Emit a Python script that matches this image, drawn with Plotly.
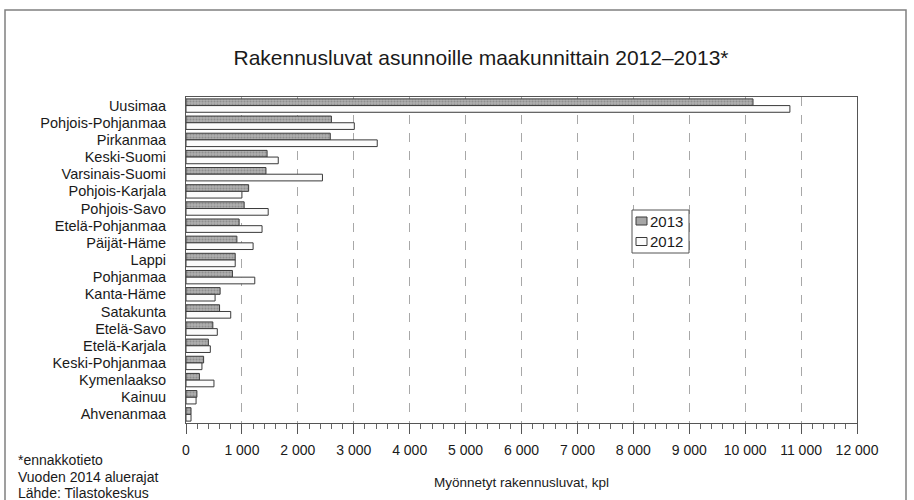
import plotly.graph_objects as go

regions = ["Uusimaa", "Pohjois-Pohjanmaa", "Pirkanmaa", "Keski-Suomi", "Varsinais-Suomi",
           "Pohjois-Karjala", "Pohjois-Savo", "Etelä-Pohjanmaa", "Päijät-Häme", "Lappi",
           "Pohjanmaa", "Kanta-Häme", "Satakunta", "Etelä-Savo", "Etelä-Karjala",
           "Keski-Pohjanmaa", "Kymenlaakso", "Kainuu", "Ahvenanmaa"]
values_2013 = [10140, 2600, 2580, 1450, 1430, 1120, 1040, 950, 910, 880,
               830, 610, 600, 480, 400, 315, 240, 195, 90]
values_2012 = [10800, 3010, 3420, 1650, 2440, 1000, 1470, 1360, 1200, 880,
               1230, 520, 800, 560, 435, 285, 500, 180, 90]
series_names = ["2013", "2012"]
tick_values = list(range(0, 12001, 1000))
tick_labels = ["0" if v == 0 else f"{v:,}".replace(",", " ") for v in tick_values]
footnotes = ["*ennakkotieto", "Vuoden 2014 aluerajat", "Lähde: Tilastokeskus"]

W, H = 914, 500
L, R, T, B = 186, 57, 97, 77
pw, ph = W - L - R, H - T - B


def px(x):
    return (x - L) / pw


def py(y):
    return (H - B - y) / ph


FONT = "Liberation Sans, Arial, sans-serif"
TXT = "#1a1a1a"
marker_2013 = dict(color="#a6a6a6", line=dict(color="#3a3a3a", width=1),
                   pattern=dict(shape=".", size=3, fgcolor="#6e6e6e", bgcolor="#b0b0b0", solidity=0.4))
marker_2012 = dict(color="#fbfbfb", line=dict(color="#3a3a3a", width=1))

fig = go.Figure()
fig.add_trace(go.Bar(name=series_names[0], y=regions, x=values_2013, orientation="h", marker=marker_2013))
fig.add_trace(go.Bar(name=series_names[1], y=regions, x=values_2012, orientation="h", marker=marker_2012))

fig.update_layout(
    width=W, height=H,
    margin=dict(l=L, r=R, t=T, b=B),
    paper_bgcolor="white", plot_bgcolor="white",
    barmode="group", bargap=0.22, bargroupgap=0,
    font=dict(family=FONT, color=TXT, size=14),
    title=dict(text="Rakennusluvat asunnoille maakunnittain 2012–2013*",
               x=481 / W, xanchor="center", xref="container",
               y=1 - 58 / H, yanchor="middle", yref="container",
               font=dict(size=21, color=TXT)),
    showlegend=False,
)

fig.update_xaxes(
    range=[0, 12000], tickvals=tick_values, ticktext=tick_labels,
    showgrid=True, gridcolor="#a8a8a8", griddash="dash", gridwidth=1,
    showline=True, linecolor="#555", linewidth=1, mirror=True,
    ticks="outside", ticklen=10, tickcolor="#555", ticklabelstandoff=4,
    minor=dict(dtick=200, ticks="outside", ticklen=5, tickcolor="#666", showgrid=False),
    tickfont=dict(size=14, color=TXT),
    title=dict(text="Myönnetyt rakennusluvat, kpl", standoff=20, font=dict(size=13.5, color=TXT)),
    zeroline=False,
)
fig.update_yaxes(
    autorange="reversed", showline=True, linecolor="#555", linewidth=1, mirror=True,
    ticks="", tickfont=dict(size=14.5, color=TXT), ticklabelstandoff=16,
)

# outer frame
fig.add_shape(type="rect", xref="paper", yref="paper",
              x0=px(5), x1=px(906), y0=py(503), y1=py(10),
              line=dict(color="#808080", width=1.5), fillcolor="rgba(0,0,0,0)", layer="below")

# legend (drawn box with swatches)
fig.add_shape(type="rect", xref="paper", yref="paper",
              x0=px(632), x1=px(689), y0=py(253), y1=py(210),
              line=dict(color="#555", width=1), fillcolor="white")
legend_rows = [(series_names[0], 221, "#a6a6a6"), (series_names[1], 241.5, "#fbfbfb")]
for name, yc, col in legend_rows:
    fig.add_shape(type="rect", xref="paper", yref="paper",
                  x0=px(636), x1=px(647), y0=py(yc + 4), y1=py(yc - 4),
                  line=dict(color="#3a3a3a", width=1), fillcolor=col)
    fig.add_annotation(xref="paper", yref="paper", x=px(648), y=py(yc),
                       xanchor="left", yanchor="middle", text=name, showarrow=False,
                       font=dict(size=15, color=TXT))

for text, yc in zip(footnotes, [460, 476.5, 492.5]):
    fig.add_annotation(xref="paper", yref="paper", x=px(16), y=py(yc),
                       xanchor="left", yanchor="middle", text=text,
                       showarrow=False, align="left", font=dict(size=14, color=TXT))

fig.write_html("out.html", config={"displayModeBar": False},
               post_script="document.body.style.margin='0';document.body.style.overflow='hidden';")
